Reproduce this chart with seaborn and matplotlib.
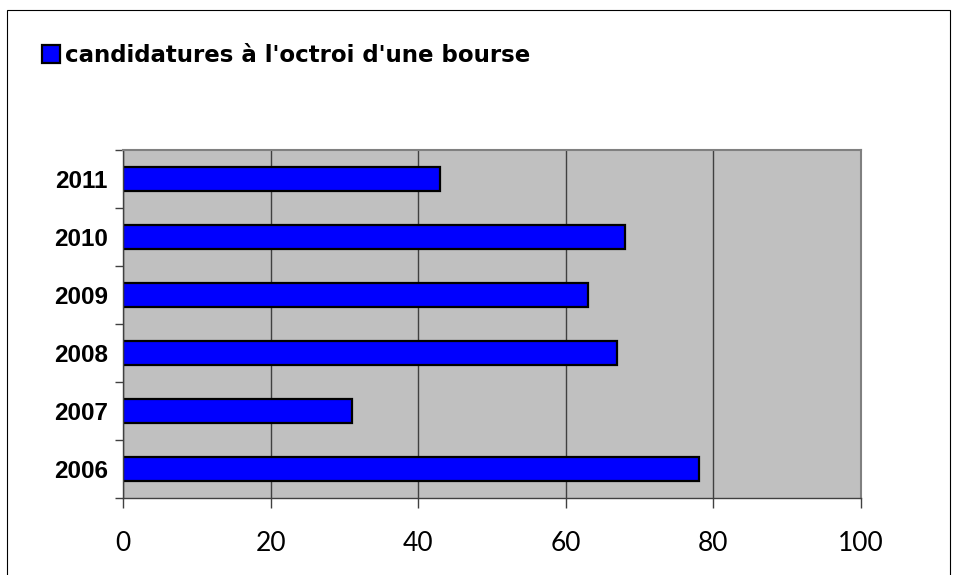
import pandas as pd
import matplotlib
matplotlib.use('Agg')
import matplotlib.pyplot as plt
import matplotlib.patches as patches
import seaborn as sns

# Chart values
years = ['2011', '2010', '2009', '2008', '2007', '2006']
candidatures = [43, 68, 63, 67, 31, 78]
series_label = "candidatures à l'octroi d'une bourse"
x_ticks = [0, 20, 40, 60, 80, 100]

data = pd.DataFrame({'Année': years, 'Candidatures': candidatures})

sns.set_style('white')
plt.rcParams['font.family'] = ['Liberation Sans', 'DejaVu Sans']
plt.rcParams['text.color'] = 'black'
plt.rcParams['xtick.color'] = 'black'
plt.rcParams['ytick.color'] = 'black'

fig = plt.figure(figsize=(9.57, 5.75), dpi=100)
ax = fig.add_axes([123 / 957, 1 - 498 / 575, 738 / 957, 348 / 575])
ax.set_facecolor('#C0C0C0')

sns.barplot(
    data=data,
    x='Candidatures',
    y='Année',
    order=years,
    orient='h',
    color='#0000FF',
    saturation=1,
    width=0.4,
    edgecolor='black',
    linewidth=1.6,
    label=series_label,
    ax=ax,
)

ax.set_xlim(0, 100)
ax.set_ylim(len(years) - 0.5, -0.5)
ax.set_xticks(x_ticks)
ax.set_xticklabels([str(t) for t in x_ticks], fontsize=19,
                   family=['Lato', 'DejaVu Sans'], color='black')
ax.tick_params(axis='x', direction='out', length=7, width=1, color='#404040',
               pad=17, bottom=True)

# category labels in the middle, ticks at the category boundaries
ax.set_yticks(range(len(years)))
ax.set_yticklabels(years, fontsize=17.5, fontweight='bold', color='black')
ax.tick_params(axis='y', which='major', length=0, pad=11)
ax.set_yticks([i - 0.5 for i in range(len(years) + 1)], minor=True)
ax.tick_params(axis='y', which='minor', direction='out', length=6, width=1,
               color='#404040', left=True)

ax.set_xlabel('')
ax.set_ylabel('')
ax.grid(axis='x', color='#404040', linewidth=1)
ax.set_axisbelow(True)

for side in ['top', 'right']:
    ax.spines[side].set_color('#808080')
    ax.spines[side].set_linewidth(1.5)
for side in ['left', 'bottom']:
    ax.spines[side].set_color('#404040')
    ax.spines[side].set_linewidth(1)

leg = ax.legend(loc='upper left', bbox_to_anchor=(42 / 957, 1 - 44 / 575),
                bbox_transform=fig.transFigure, frameon=False,
                handlelength=0.8, handleheight=0.8, handletextpad=0.2,
                borderaxespad=0, borderpad=0,
                prop={'family': 'DejaVu Sans', 'size': 16.5, 'weight': 'bold'})
for t in leg.get_texts():
    t.set_color('black')

# outer chart border
fig.patches.append(patches.Rectangle((7 / 957, -0.01), 943 / 957, 1 - 10 / 575 + 0.01,
                                     transform=fig.transFigure, fill=False,
                                     edgecolor='black', linewidth=0.8))

fig.savefig('out.png', dpi=100)
